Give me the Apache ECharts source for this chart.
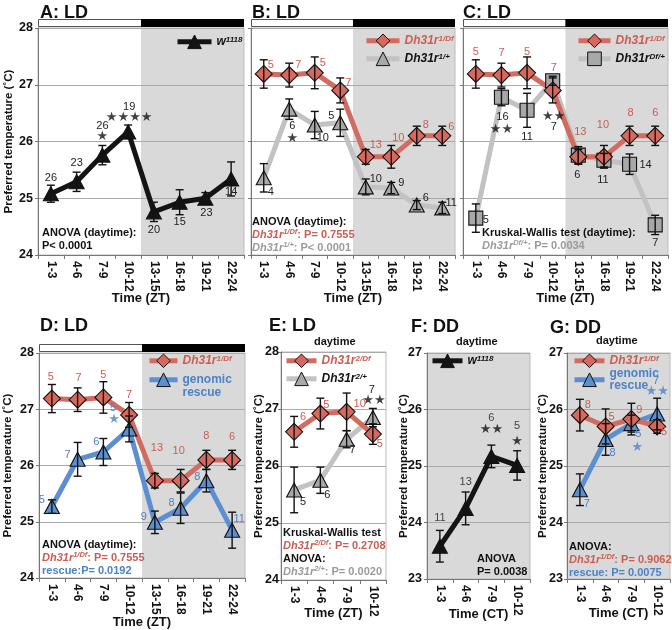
<!DOCTYPE html>
<html><head><meta charset="utf-8">
<script src="https://cdn.jsdelivr.net/npm/echarts@6/dist/echarts.min.js"></script>
<style>html,body{margin:0;padding:0;background:#fff}#c{width:672px;height:630px}</style>
</head><body><div id="c"></div>
<script>
// ---------- DATA ----------
const catsZT = ['1-3','4-6','7-9','10-12','13-15','16-18','19-21','22-24'];
const catsDay = ['1-3','4-6','7-9','10-12'];

// A: w1118 (LD)
const aW = [25.08, 25.29, 25.76, 26.17, 24.76, 24.93, 25.00, 25.34];
const aWErr = [0.15, 0.17, 0.17, 0.12, 0.17, 0.22, 0.10, 0.30];
const aWN = [26, 23, 26, 19, 20, 15, 23, 14];
const aWSig = ['', '', '*', '****', '', '', '', ''];

// Dh31r1/Df (LD) – shown in B, C, D
const r1Df = [27.19, 27.17, 27.21, 26.90, 25.73, 25.73, 26.10, 26.10];
const r1DfErr = [0.25, 0.21, 0.28, 0.22, 0.13, 0.20, 0.17, 0.17];
const r1DfN = [5, 7, 5, 7, 13, 10, 8, 6];

// B: Dh31r1/+
const bG = [25.36, 26.57, 26.29, 26.33, 25.20, 25.18, 24.88, 24.83];
const bGErr = [0.25, 0.18, 0.24, 0.24, 0.14, 0.10, 0.08, 0.10];
const bGN = [4, 6, 10, 5, 10, 9, 6, 11];
const bGSig = ['', '*', '', '', '', '', '', ''];

// C: Dh31rDf/+
const cG = [24.65, 26.78, 26.55, 27.07, 25.76, 25.67, 25.60, 24.53];
const cGErr = [0.25, 0.15, 0.30, 0.08, 0.15, 0.12, 0.18, 0.17];
const cGN = [5, 16, 11, 7, 6, 11, 14, 7];
const cGSig = ['', '**', '', '**', '', '', '', ''];

// D: genomic rescue
const dB = [25.27, 26.11, 26.24, 26.65, 24.99, 25.24, 25.73, 24.85];
const dBErr = [0.12, 0.30, 0.24, 0.23, 0.20, 0.27, 0.20, 0.32];
const dBN = [5, 7, 6, 5, 9, 8, 8, 11];
const dBSig = ['', '', '', '*', '', '', '', ''];

// E: Dh31r2/Df and Dh31r2/+ (daytime)
const eR = [26.60, 26.92, 26.95, 26.56];
const eRErr = [0.27, 0.27, 0.33, 0.18];
const eRN = [6, 5, 10, 5];
const eG = [25.58, 25.75, 26.47, 26.85];
const eGErr = [0.40, 0.23, 0.15, 0.16];
const eGN = [5, 6, 7, 7];
const eGSig = ['', '', '', '**'];

// F: w1118 (DD)
const fW = [23.58, 24.25, 25.17, 25.01];
const fWErr = [0.28, 0.29, 0.20, 0.26];
const fWN = [11, 13, 6, 5];
const fWSig = ['', '', '**', '*'];

// G: Dh31r1/Df and genomic rescue (DD)
const gR = [25.90, 25.70, 25.83, 25.70];
const gRErr = [0.28, 0.31, 0.28, 0.12];
const gRN = [8, 5, 9, 5];
const gB = [24.58, 25.47, 25.75, 25.92];
const gBErr = [0.28, 0.28, 0.15, 0.28];
const gBN = [7, 8, 5, 7];
const gBSig = ['', '', '*', '**'];

// ---------- STYLE ----------
const FONT = '"Liberation Sans", Arial, Helvetica, sans-serif';
const RED = '#d26b60', REDFILL = '#d8685c', REDTXT = '#cc5d52';
const GRAYLINE = '#c2c2c2', GRAYFILL = '#a8a8a8', GRAYTXT = '#9b9b9b';
const BLUE = '#5c8fd1', BLUEFILL = '#5b8fd0', BLUETXT = '#4c82c8';
const BLK = '#141414';
const NIGHT = '#d9d9d9';
const STARDY = 0;

// label offsets (label centre relative to marker centre), px
const offA = [[0,-16],[0,-19],[0,-29],[1,-25],[0,18],[0,20],[1,15],[0,13]];
const starOffA = [null,null,[0,-18],[1,-14],null,null,null,null];
const offBR = [[7,-9],[9,-10],[8,-10],[8,-7],[10,-12],[7,-19],[9,-11],[9,-9]];
const offBG = [[7,14],[3,17],[8,13],[-9,-7],[10,-8],[10,-5],[9,-7],[9,-5]];
const starOffBG = [null,[3,29],null,null,null,null,null,null];
const offCR = [[0,-22],[0,-22],[0,-21],[1,-22],[2,-25],[-1,-32],[1,-23],[0,-23]];
const offCG = [[10,2],[1,20],[0,27],[1,46],[-1,20],[-1,20],[16,1],[0,18]];
const starOffCG = [null,[0,32],null,[1,36],null,null,null,null];
const offDR = [[-1,-22],[1,-22],[0,-22],[0,-20],[2,-33],[-2,-30],[0,-24],[0,-23]];
const offDB = [[-10,-7],[-10,-4],[-7,-10],[-16,-21],[-11,-5],[-9,-5],[-9,-4],[7,-11]];
const starOffDB = [null,null,null,[-15,-9],null,null,null,null];
const offER = [[9,-15],[6,-9],[13,-8],[7,10]];
const offEG = [[9,12],[7,15],[6,11],[-1,-28]];
const starOffEG = [null,null,null,[1,-17]];
const offF = [[0,-28],[0,-26],[0,-38],[0,-39]];
const starOffF = [null,null,[0,-27],[0,-24]];
const offGR = [[8,-10],[6,-9],[8,-9],[7,6]];
const offGB = [[7,14],[7,14],[7,10],[-1,-33]];
const starOffGB = [null,null,[6,24],[0,-22]];

// ---------- BUILDERS ----------
function errS(gi, vals, errs) {
  return {type:'custom', xAxisIndex:gi, yAxisIndex:gi, z:4, silent:true, animation:false,
    data: vals.map((v,i)=>[i, v, errs[i]]),
    renderItem(params, api) {
      const x = api.value(0), m = api.value(1), e = api.value(2);
      const hi = api.coord([x, m+e]), lo = api.coord([x, m-e]);
      const w = 4;
      const st = () => ({stroke:'#111', lineWidth:1.4});
      return {type:'group', children:[
        {type:'line', shape:{x1:hi[0], y1:hi[1], x2:lo[0], y2:lo[1]}, style:st()},
        {type:'line', shape:{x1:hi[0]-w, y1:hi[1], x2:hi[0]+w, y2:hi[1]}, style:st()},
        {type:'line', shape:{x1:lo[0]-w, y1:lo[1], x2:lo[0]+w, y2:lo[1]}, style:st()}
      ]};
    }};
}
function lineS(name, gi, vals, n, offs, o) {
  return {type:'line', name, xAxisIndex:gi, yAxisIndex:gi, z:3, animation:false,
    symbol:o.symbol, symbolSize:o.size, showAllSymbol:true,
    lineStyle:{color:o.line, width:5},
    itemStyle:{color:o.fill, borderColor:'#111', borderWidth:1.1},
    label:{show:true, position:'inside', color:o.txt, fontSize:11, fontFamily:FONT,
      formatter:p=>String(n[p.dataIndex])},
    emphasis:{disabled:true},
    data: vals.map((v,i)=>({value:v, label:{offset:offs[i]}}))};
}
function starS(gi, vals, sig, offs, color) {
  const d = [];
  sig.forEach((s,i)=>{ if (s) d.push({value:[i, vals[i]], s: s.replace(/\*/g, '★'), label:{offset:[offs[i][0], offs[i][1]+STARDY]}}); });
  return {type:'scatter', xAxisIndex:gi, yAxisIndex:gi, z:6, symbolSize:1, silent:true, animation:false,
    itemStyle:{color:'rgba(0,0,0,0)'},
    label:{show:true, position:'inside', color, fontSize:13, fontFamily:'"DejaVu Sans", sans-serif', formatter:p=>p.data.s},
    data:d};
}
function nightS(gi, start) {
  return {type:'custom', xAxisIndex:gi, yAxisIndex:gi, z:-1, silent:true, animation:false, data:[[start, 26]],
    renderItem(params, api) {
      const cs = params.coordSys, bw = api.size([1,0])[0];
      const bx = api.coord([api.value(0), api.value(1)])[0] - bw/2;
      return {type:'rect', shape:{x:bx, y:cs.y, width:cs.x+cs.width-bx, height:cs.height}, style:{fill:NIGHT}};
    }};
}
function barS(gi, start) {
  return {type:'custom', xAxisIndex:gi, yAxisIndex:gi, z:7, silent:true, animation:false, data:[[start, 26]],
    renderItem(params, api) {
      const cs = params.coordSys, bw = api.size([1,0])[0];
      const bx = api.coord([api.value(0), api.value(1)])[0] - bw/2;
      return {type:'group', children:[
        {type:'rect', shape:{x:cs.x+0.5, y:cs.y-8.5, width:bx-cs.x, height:7}, style:{fill:'#fff', stroke:'#555', lineWidth:1}},
        {type:'rect', shape:{x:bx, y:cs.y-9, width:cs.x+cs.width-bx, height:8}, style:{fill:'#000'}}
      ]};
    }};
}
function xAx(gi, cats, name, gap) {
  return {gridIndex:gi, type:'category', data:cats, boundaryGap:true,
    axisLine:{show:true, lineStyle:{color:'#777', width:1}},
    axisTick:{show:true, length:4, lineStyle:{color:'#777'}},
    axisLabel:{rotate:-90, fontSize:12, fontWeight:'bold', color:'#111', fontFamily:FONT, margin:6, interval:0},
    splitLine:{show:false},
    name, nameLocation:'middle', nameGap:gap, nameMoveOverlap:false,
    nameTextStyle:{fontSize:13, fontWeight:'bold', color:'#111', fontFamily:FONT}};
}
function yAx(gi, min, max, showLab, name, gap, margin) {
  return {gridIndex:gi, type:'value', min, max, interval:1,
    axisLine:{show:true, lineStyle:{color:'#777'}},
    axisTick:{show:true, length:3, lineStyle:{color:'#777'}},
    axisLabel:{show:showLab, fontSize:12.5, fontWeight:'bold', color:'#111', fontFamily:FONT, margin: margin == null ? 5 : margin},
    splitLine:{show:true, lineStyle:{color:'#aaa', width:1}},
    name: name || '', nameLocation:'middle', nameGap:gap || 20, nameMoveOverlap:false,
    nameTextStyle:{fontSize:11.5, fontWeight:'bold', color:'#111', fontFamily:FONT}};
}

const sBlack = {symbol:'triangle', size:[15,14], line:BLK, fill:BLK, txt:'#222'};
const sRed = {symbol:'diamond', size:[17,17], line:RED, fill:REDFILL, txt:REDTXT};
const sGrayT = {symbol:'triangle', size:[15,14], line:GRAYLINE, fill:GRAYFILL, txt:'#222'};
const sGrayS = {symbol:'rect', size:[14,14], line:GRAYLINE, fill:GRAYFILL, txt:'#222'};
const sBlue = {symbol:'triangle', size:[15,14], line:BLUE, fill:BLUEFILL, txt:BLUETXT};
const sBlackF = Object.assign({}, sBlack, {txt:'#444'});

const Y_NAME = 'Preferred temperature (˚C)';

const grids = [
  {left:38, top:28, width:206, height:227},
  {left:251, top:28, width:204, height:227},
  {left:463, top:28, width:205, height:227},
  {left:39, top:353, width:206, height:225},
  {left:281, top:352, width:105, height:228},
  {left:427, top:353, width:103, height:226},
  {left:567, top:353, width:103, height:226}
].map((g,i)=>Object.assign(g, {show:true, borderColor:'#bbb', borderWidth:1, containLabel:false,
  outerBoundsMode:'none', backgroundColor: i >= 5 ? NIGHT : 'transparent'}));

const xAxes = [
  xAx(0, catsZT, 'Time (ZT)', 37), xAx(1, catsZT, 'Time (ZT)', 37), xAx(2, catsZT, 'Time (ZT)', 37),
  xAx(3, catsZT, 'Time (ZT)', 38), xAx(4, catsDay, 'Time (ZT)', 27),
  xAx(5, catsDay, 'Time (CT)', 29), xAx(6, catsDay, 'Time (CT)', 28)
];
const yAxes = [
  yAx(0, 24, 28, true, Y_NAME, 23), yAx(1, 24, 28, false), yAx(2, 24, 28, false),
  yAx(3, 24, 28, true, Y_NAME, 25), yAx(4, 24, 28, true, Y_NAME, 16, 2),
  yAx(5, 23, 27, true, Y_NAME, 17), yAx(6, 23, 27, true, Y_NAME, 18, 4)
];

const series = [
  // A
  nightS(0, 4), lineS('A_w', 0, aW, aWN, offA, sBlack), errS(0, aW, aWErr), starS(0, aW, aWSig, starOffA, '#111'), barS(0, 4),
  // B
  nightS(1, 4), lineS('B_g', 1, bG, bGN, offBG, sGrayT), lineS('B_r', 1, r1Df, r1DfN, offBR, sRed),
  errS(1, bG, bGErr), errS(1, r1Df, r1DfErr), starS(1, bG, bGSig, starOffBG, '#111'), barS(1, 4),
  // C
  nightS(2, 4), lineS('C_g', 2, cG, cGN, offCG, sGrayS), lineS('C_r', 2, r1Df, r1DfN, offCR, sRed),
  errS(2, cG, cGErr), errS(2, r1Df, r1DfErr), starS(2, cG, cGSig, starOffCG, '#111'), barS(2, 4),
  // D
  nightS(3, 4), lineS('D_b', 3, dB, dBN, offDB, sBlue), lineS('D_r', 3, r1Df, r1DfN, offDR, sRed),
  errS(3, dB, dBErr), errS(3, r1Df, r1DfErr), starS(3, dB, dBSig, starOffDB, BLUETXT), barS(3, 4),
  // E
  lineS('E_g', 4, eG, eGN, offEG, sGrayT), lineS('E_r', 4, eR, eRN, offER, sRed),
  errS(4, eG, eGErr), errS(4, eR, eRErr), starS(4, eG, eGSig, starOffEG, '#111'),
  // F
  lineS('F_w', 5, fW, fWN, offF, sBlackF), errS(5, fW, fWErr), starS(5, fW, fWSig, starOffF, '#111'),
  // G
  lineS('G_b', 6, gB, gBN, offGB, sBlue), lineS('G_r', 6, gR, gRN, offGR, sRed),
  errS(6, gB, gBErr), errS(6, gR, gRErr), starS(6, gB, gBSig, starOffGB, BLUETXT)
];

// ---------- TEXT ----------
const rich = {
  b:{fontSize:11, fontWeight:'bold', color:'#111', fontFamily:FONT, lineHeight:13},
  ri:{fontSize:11, fontStyle:'italic', color:REDTXT, fontFamily:FONT, lineHeight:13},
  rs:{fontSize:7.5, fontStyle:'italic', color:REDTXT, fontFamily:FONT, verticalAlign:'top', lineHeight:13},
  rb:{fontSize:11, fontWeight:'bold', color:REDTXT, fontFamily:FONT, lineHeight:13},
  gi:{fontSize:11, fontStyle:'italic', color:GRAYTXT, fontFamily:FONT, lineHeight:13},
  gs:{fontSize:7.5, fontStyle:'italic', color:GRAYTXT, fontFamily:FONT, verticalAlign:'top', lineHeight:13},
  gb:{fontSize:11, fontWeight:'bold', color:GRAYTXT, fontFamily:FONT, lineHeight:13},
  bb:{fontSize:11, fontWeight:'bold', color:BLUETXT, fontFamily:FONT, lineHeight:13}
};
const legRich = {
  ki:{fontSize:12, fontStyle:'italic', fontWeight:'bold', color:'#111', fontFamily:FONT},
  ks:{fontSize:8, fontStyle:'italic', fontWeight:'bold', color:'#111', fontFamily:FONT, verticalAlign:'top'},
  ri:{fontSize:12, fontStyle:'italic', fontWeight:'bold', color:REDTXT, fontFamily:FONT},
  rs:{fontSize:8, fontStyle:'italic', fontWeight:'bold', color:REDTXT, fontFamily:FONT, verticalAlign:'top'},
  wi:{fontSize:12, fontStyle:'italic', fontWeight:'bold', color:'#111', fontFamily:FONT},
  ws:{fontSize:8, fontStyle:'italic', fontWeight:'bold', color:'#111', fontFamily:FONT, verticalAlign:'top'},
  bl:{fontSize:12, fontWeight:'bold', color:BLUETXT, fontFamily:FONT, lineHeight:12.5}
};
const legendText = {
  A_w:'{wi|w}{ws|1118}', F_w:'{wi|w}{ws|1118}',
  B_r:'{ri|Dh31r}{rs|1/Df}', C_r:'{ri|Dh31r}{rs|1/Df}', D_r:'{ri|Dh31r}{rs|1/Df}', G_r:'{ri|Dh31r}{rs|1/Df}',
  B_g:'{ki|Dh31r}{ks|1/+}', C_g:'{ki|Dh31r}{ks|Df/+}',
  E_r:'{ri|Dh31r}{rs|2/Df}', E_g:'{ki|Dh31r}{ks|2/+}',
  D_b:'{bl| }\n{bl|genomic}\n{bl|rescue}', G_b:'{bl|genomic}\n{bl|rescue}'
};
const legendSty = {
  A_w:sBlack, F_w:sBlack, B_r:sRed, C_r:sRed, D_r:sRed, G_r:sRed, E_r:sRed,
  B_g:sGrayT, E_g:sGrayT, C_g:sGrayS, D_b:sBlue, G_b:sBlue
};
// one legend per entry, icon centre at (left, cy)
function leg(name, left, cy, w, lines) {
  const h = 17;
  const boxH = lines ? Math.max(h, lines * 12.5) : h;
  const s = legendSty[name];
  return {data:[{name, itemStyle:{color:s.fill, borderColor:'#111', borderWidth:1}, lineStyle:{color:s.line, width:5}}],
    left, top: cy - boxH / 2, orient:'vertical', itemWidth:w, itemHeight:h, padding:0,
    selectedMode:false, formatter:n=>legendText[n], textStyle:{fontFamily:FONT, rich:legRich}};
}
function ttl(text, left, top, size) {
  return {text, left, top, padding:0, textStyle:{fontSize:size || 18, fontWeight:'bold', color:'#111', fontFamily:FONT, rich}};
}

const titles = [
  ttl('A: LD', 40, 4), ttl('B: LD', 252, 4), ttl('C: LD', 463, 4),
  ttl('D: LD', 40, 317), ttl('E: LD', 269, 317), ttl('F: DD', 411, 318), ttl('G: DD', 550, 319),
  ttl('daytime', 314, 336, 11), ttl('daytime', 456, 336, 11), ttl('daytime', 596, 335, 11),
  ttl('{b|ANOVA (daytime):}\n{b|P< 0.0001}', 42, 226),
  ttl('{b|ANOVA (daytime):}\n{ri|Dh31r}{rs|1/Df}{rb|: P= 0.7555}\n{gi|Dh31r}{gs|1/+}{gb|: P< 0.0001}', 252, 215),
  ttl('{b|Kruskal-Wallis test (daytime):}\n{gi|Dh31r}{gs|Df/+}{gb|: P= 0.0034}', 482, 226),
  ttl('{b|ANOVA (daytime):}\n{ri|Dh31r}{rs|1/Df}{rb|: P= 0.7555}\n{bb|rescue:P= 0.0192}', 42, 538),
  ttl('{b|Kruskal-Wallis test}\n{ri|Dh31r}{rs|2/Df}{rb|: P= 0.2708}\n{b|ANOVA:}\n{gi|Dh31r}{gs|2/+}{gb|: P= 0.0020}', 283, 526),
  ttl('{b|ANOVA}\n{b|P= 0.0038}', 477, 552),
  ttl('{b|ANOVA:}\n{ri|Dh31r}{rs|1/Df}{rb|: P= 0.9062}\n{bb|rescue: P= 0.0075}', 569, 540)
];

const legends = [
  leg('A_w', 175, 43, 34),
  leg('B_r', 364, 42, 33), leg('B_g', 364, 60, 33),
  leg('C_r', 576, 42, 32), leg('C_g', 576, 60, 32),
  leg('D_r', 147, 362, 28), leg('D_b', 147, 380, 28, 3),
  leg('E_r', 284, 362, 30), leg('E_g', 284, 380, 30),
  leg('F_w', 430, 362, 30),
  leg('G_r', 572, 362, 30), leg('G_b', 572, 380, 30, 2)
];

const chart = echarts.init(document.getElementById('c'), null, {renderer:'canvas'});
chart.setOption({
  animation:false,
  backgroundColor:'#fff',
  title: titles,
  legend: legends,
  grid: grids,
  xAxis: xAxes,
  yAxis: yAxes,
  series
});
</script>
</body></html>
